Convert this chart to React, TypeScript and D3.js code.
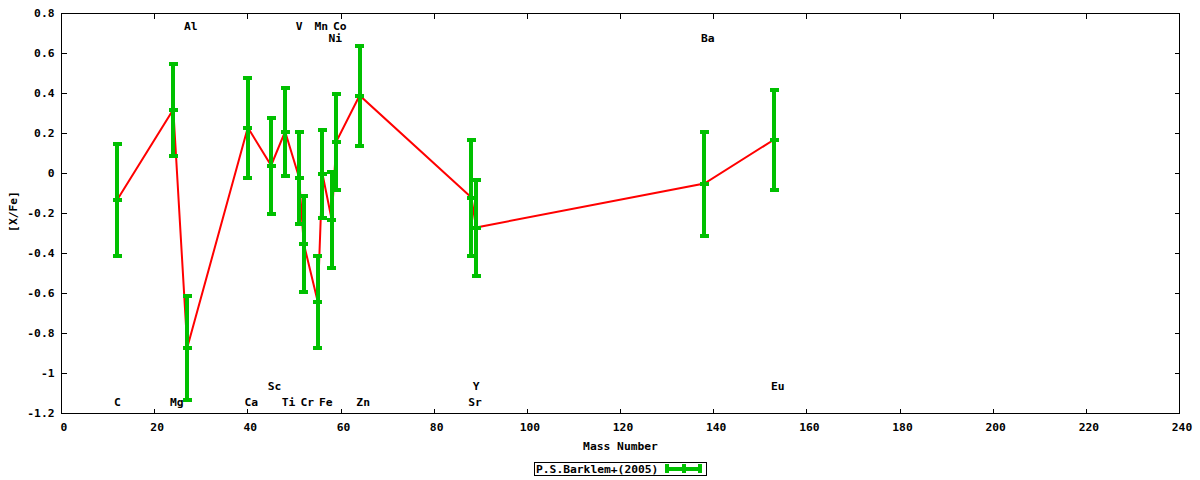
import React from "react";
import * as d3 from "d3";

const elements = ["C", "Mg", "Al", "Ca", "Sc", "Ti", "V", "Cr", "Mn", "Fe", "Ni", "Co", "Zn", "Sr", "Y", "Ba", "Eu"];
const massNumbers = [12, 24, 27, 40, 45, 48, 51, 52, 55, 56, 58, 59, 64, 88, 89, 138, 153];
const xfeValues = [-0.13, 0.32, -0.87, 0.23, 0.04, 0.21, -0.02, -0.35, -0.64, 0.0, -0.23, 0.16, 0.39, -0.12, -0.27, -0.05, 0.17];
const xfeErrors = [0.28, 0.23, 0.26, 0.25, 0.24, 0.22, 0.23, 0.24, 0.23, 0.22, 0.24, 0.24, 0.25, 0.29, 0.24, 0.26, 0.25];
const labelYValues = [-1.145, -1.145, 0.735, -1.145, -1.065, -1.145, 0.735, -1.145, 0.735, -1.145, 0.675, 0.735, -1.145, -1.145, -1.065, 0.675, -1.065];

const xTicks = [0, 20, 40, 60, 80, 100, 120, 140, 160, 180, 200, 220, 240];
const yTicks = [0.8, 0.6, 0.4, 0.2, 0, -0.2, -0.4, -0.6, -0.8, -1, -1.2];

const legendTitle = "P.S.Barklem+(2005)";
const xTitle = "Mass Number";
const yTitle = "[X/Fe]";

const W = 1200;
const H = 480;
const L = 61.5, R = 1179.5, T = 13.5, B = 413.5;
const FONT = "'DejaVu Sans Mono', monospace";
const GREEN = "#00c000";

export default function App() {
  const x = d3.scaleLinear().domain([0, 240]).range([L, R]);
  const y = d3.scaleLinear().domain([-1.2, 0.8]).range([B, T]);

  const pts = massNumbers.map((m, i) => ({ m, v: xfeValues[i], e: xfeErrors[i], name: elements[i], ly: labelYValues[i] }));
  const line = d3.line<{ m: number; v: number }>().x((d) => x(d.m)).y((d) => y(d.v));

  const fmtY = (v: number) => (v === 0 ? "0" : String(Math.round(v * 10) / 10));
  const tickLen = 5;
  const capHalf = 4.5;

  return (
    <svg width={W} height={H} style={{ display: "block", position: "absolute", left: 0, top: 0 }} xmlns="http://www.w3.org/2000/svg">
      <rect x={0} y={0} width={W} height={H} fill="#fff" />
      {/* ticks */}
      <g stroke="#000" strokeWidth={1} shapeRendering="crispEdges">
        {xTicks.map((t) => (
          <g key={"xt" + t}>
            <line x1={x(t)} x2={x(t)} y1={B} y2={B - tickLen} />
            <line x1={x(t)} x2={x(t)} y1={T} y2={T + tickLen} />
          </g>
        ))}
        {yTicks.map((t) => (
          <g key={"yt" + t}>
            <line x1={L} x2={L + tickLen} y1={y(t)} y2={y(t)} />
            <line x1={R} x2={R - tickLen} y1={y(t)} y2={y(t)} />
          </g>
        ))}
      </g>
      {/* tick labels */}
      <g fontFamily={FONT} fontWeight="bold" fontSize={11.3} fill="#000">
        {xTicks.map((t) => (
          <text key={"xl" + t} x={x(t) + 2.5} y={427.5} dy="0.35em" textAnchor="middle">{t}</text>
        ))}
        {yTicks.map((t) => (
          <text key={"yl" + t} x={L - 7} y={y(t)} dy="0.35em" textAnchor="end">{fmtY(t)}</text>
        ))}
        <text x={(L + R) / 2} y={446.5} dy="0.35em" textAnchor="middle">{xTitle}</text>
        <text transform={`translate(13.5,${(T + B) / 2 - 2}) rotate(-90)`} dy="0.35em" textAnchor="middle">{yTitle}</text>
      </g>
      {/* element labels */}
      <g fontFamily={FONT} fontWeight="bold" fontSize={11.3} fill="#000">
        {pts.map((p) => (
          <text key={"el" + p.name} x={x(p.m) + (p.name.length - 1) * 3.5} y={y(p.ly)} dy="0.35em" textAnchor="middle">{p.name}</text>
        ))}
      </g>
      {/* red line */}
      <path d={line(pts) || ""} fill="none" stroke="#ff0000" strokeWidth={2} />
      {/* error bars */}
      <g stroke={GREEN} strokeWidth={4} shapeRendering="crispEdges">
        {pts.map((p) => (
          <g key={"eb" + p.name}>
            <line x1={x(p.m)} x2={x(p.m)} y1={y(p.v + p.e)} y2={y(p.v - p.e)} />
            <line x1={x(p.m) - capHalf} x2={x(p.m) + capHalf} y1={y(p.v + p.e)} y2={y(p.v + p.e)} />
            <line x1={x(p.m) - capHalf} x2={x(p.m) + capHalf} y1={y(p.v - p.e)} y2={y(p.v - p.e)} />
            <line x1={x(p.m) - capHalf} x2={x(p.m) + capHalf} y1={y(p.v)} y2={y(p.v)} />
          </g>
        ))}
      </g>
      {/* border */}
      <rect x={L} y={T} width={R - L} height={B - T} fill="none" stroke="#000" strokeWidth={1} shapeRendering="crispEdges" />
      {/* legend */}
      <g>
        <rect x={534.5} y={462.5} width={172} height={13} fill="#fff" stroke="#000" strokeWidth={1} shapeRendering="crispEdges" />
        <text x={536} y={469} dy="0.35em" fontFamily={FONT} fontWeight="bold" fontSize={11.3} fill="#000">{legendTitle}</text>
        <g stroke={GREEN} strokeWidth={4} shapeRendering="crispEdges">
          <line x1={666} x2={701} y1={468.5} y2={468.5} />
          <line x1={667} x2={667} y1={464} y2={473} />
          <line x1={700} x2={700} y1={464} y2={473} />
          <line x1={683.5} x2={683.5} y1={464} y2={473} />
        </g>
      </g>
    </svg>
  );
}
